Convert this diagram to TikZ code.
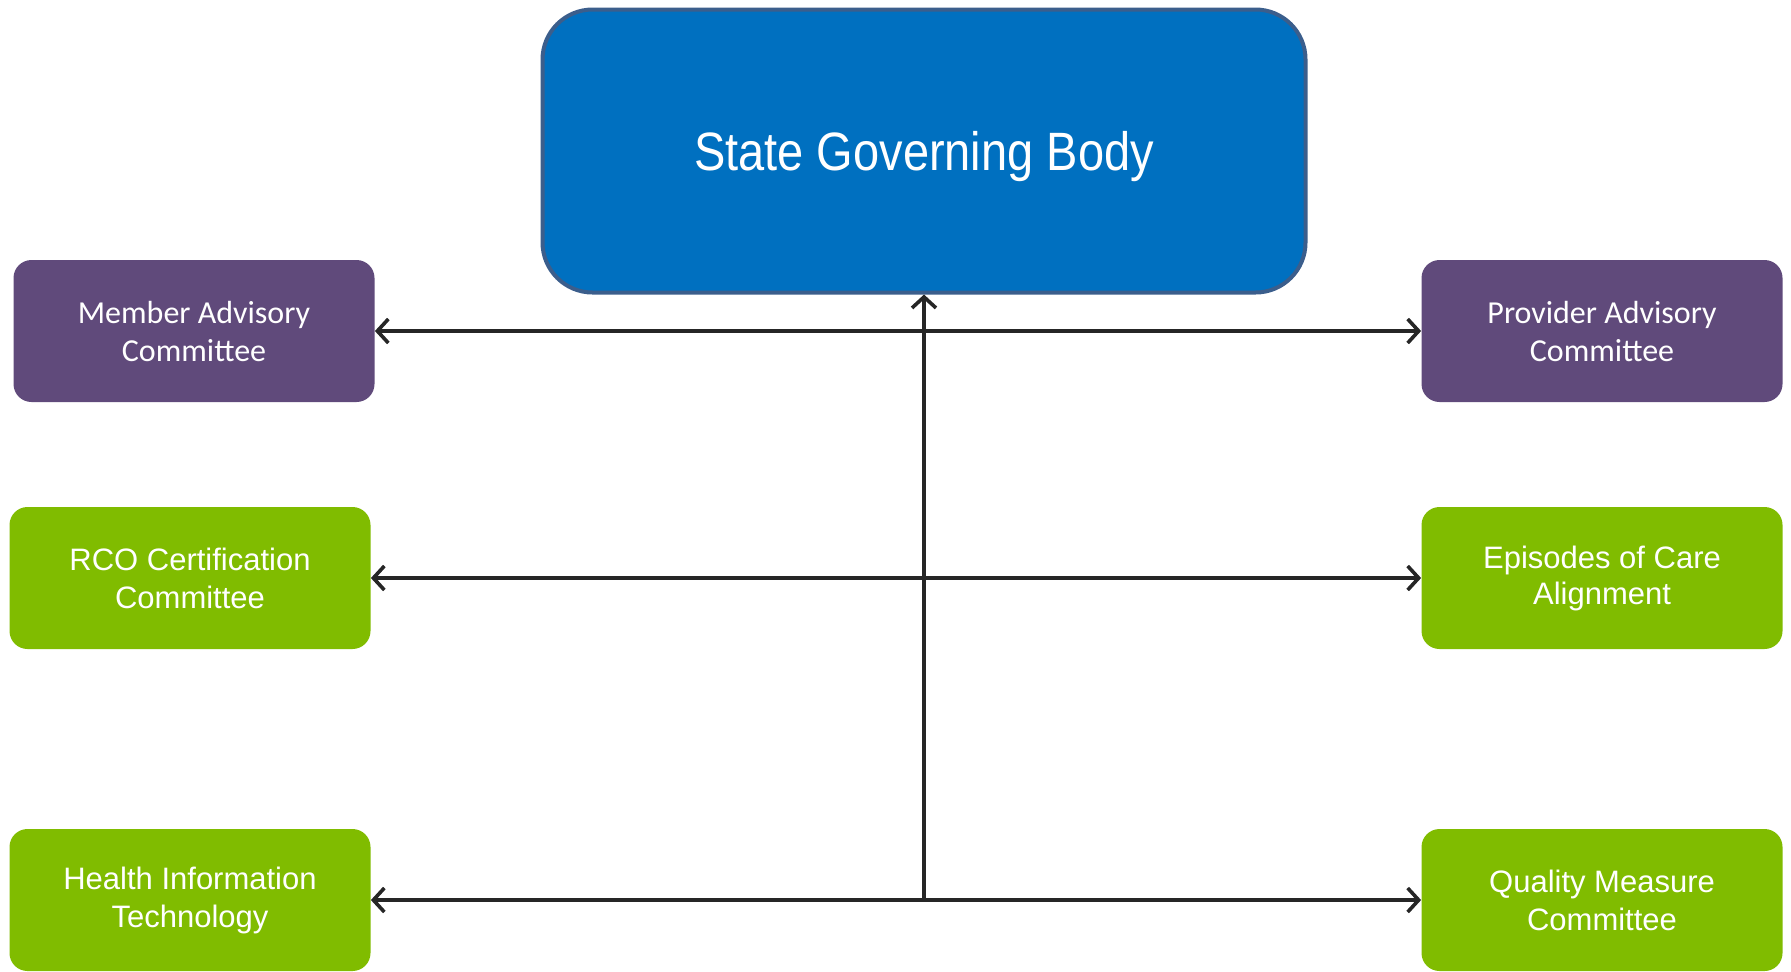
\documentclass[tikz,border=0pt]{standalone}
\usepackage{fontspec}
\setmainfont{Liberation Sans}
\newfontfamily\calfont{Carlito}
\newfontfamily\govfont[FakeStretch=0.87]{Liberation Sans}
\usetikzlibrary{arrows.meta,positioning}

\definecolor{govblue}{HTML}{0070C0}
\definecolor{govedge}{HTML}{3B5E8C}
\definecolor{advpurple}{HTML}{604A7B}
\definecolor{comgreen}{HTML}{80BC00}
\definecolor{linkgray}{HTML}{262626}

\begin{document}
\begin{tikzpicture}[x=0.5pt,y=-0.5pt,>={Straight Barb[length=5.5pt,width=12pt]},
  every node/.style={align=center,text=white,inner sep=0pt},
  govbox/.style={draw=govedge,line width=2pt,fill=govblue,rounded corners=25pt,
    minimum width=381.5pt,minimum height=141.5pt,text height=19.4pt,text depth=0pt,
    font=\govfont\fontsize{27}{32}\selectfont},
  advbox/.style={fill=advpurple,rounded corners=9pt,
    minimum width=180.5pt,minimum height=71pt,font=\calfont\fontsize{16}{19}\selectfont},
  combox/.style={fill=comgreen,rounded corners=9pt,
    minimum width=180.5pt,minimum height=71pt,font=\fontsize{15.5}{19}\selectfont},
  link/.style={draw=linkgray,line width=1.8pt}]
\useasboundingbox (0,0) rectangle (1791,971);
\node[govbox] (Gov) at (924,151) {State Governing Body};
\node[advbox] (Member) at (194,331) {Member Advisory\\Committee};
\node[advbox] (Provider) at (1602,331) {Provider Advisory\\Committee};
\node[combox] (RCO) at (190,578) {RCO Certification\\Committee};
\node[combox] (Episodes) at (1602,578) {\raisebox{-1pt}{Episodes of Care}\\Alignment};
\node[combox] (HIT) at (190,900) {Health Information\\Technology};
\node[combox] (Quality) at (1602,900) {Quality Measure\\Committee};
\coordinate (Hub) at (Gov.south |- HIT.east);
\draw[link,<->] (Member) -- (Provider);
\draw[link,<->] (RCO) -- (Episodes);
\draw[link,<->] (HIT) -- (Quality);
\draw[link,->] (Hub) -- (Gov.south);
\end{tikzpicture}
\end{document}
